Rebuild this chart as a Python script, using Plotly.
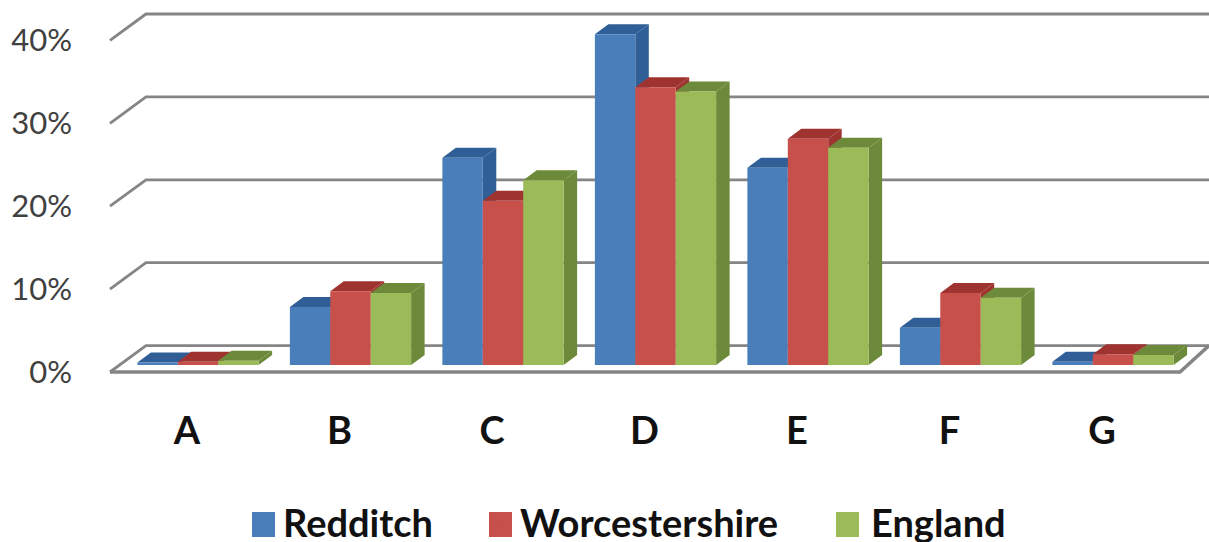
import plotly.graph_objects as go

categories = ["A", "B", "C", "D", "E", "F", "G"]
redditch = [0.3, 7.0, 25.0, 39.9, 23.8, 4.5, 0.4]
worcestershire = [0.4, 8.9, 19.8, 33.5, 27.3, 8.7, 1.3]
england = [0.5, 8.7, 22.3, 33.0, 26.2, 8.1, 1.2]
y_ticks = [0, 10, 20, 30, 40]
y_labels = ["0%", "10%", "20%", "30%", "40%"]

names = ["Redditch", "Worcestershire", "England"]
series = [redditch, worcestershire, england]
front = ["#4A7EBB", "#C8504B", "#9BBB59"]
dark = ["#2F5F96", "#9E3330", "#6C8A3A"]

W, H = 1209, 542
L, B = 76, 142
PH = H - B
PXV = 8.29      # pixels per percentage point
PXC = 152.5     # pixels per category
X0, Y0 = 198, 365


def xpx(px):
    return (px - X0) / PXC


def ypx(py):
    return (Y0 - py) / PXV


xr = [xpx(L), xpx(W)]
yr = [ypx(PH), ypx(0)]
bw = 0.265
dx, dy = 13.5 / PXC, 10 / PXV
wall_front, wall_back = -7 / PXV, 19.4 / PXV
x_lf, x_lb = xpx(110), xpx(146)
x_rf, x_rb = xpx(1180), xpx(1209)
GRID = "#858585"

fig = go.Figure()


def line(xs, ys, width):
    fig.add_trace(go.Scatter(x=xs, y=ys, mode="lines", showlegend=False, hoverinfo="skip",
                             line=dict(color=GRID, width=width)))


for t in y_ticks:
    line([x_lf, x_lb, x_rb], [t + wall_front, t + wall_back, t + wall_back], 2.8)
line([x_lf, x_rf, x_rb], [wall_front, wall_front, wall_back], 3.5)

for i in range(len(categories)):
    for j, vals in enumerate(series):
        v = vals[i]
        xl = i + (j - 1.5) * bw
        xr_b = xl + bw
        fig.add_trace(go.Scatter(
            x=[xl, xl + dx, xr_b + dx, xr_b, xl], y=[v, v + dy, v + dy, v, v],
            mode="lines", fill="toself", fillcolor=dark[j], line=dict(width=0),
            showlegend=False, hoverinfo="skip"))
        fig.add_trace(go.Scatter(
            x=[xr_b, xr_b + dx, xr_b + dx, xr_b, xr_b], y=[0, dy, v + dy, v, 0],
            mode="lines", fill="toself", fillcolor=dark[j], line=dict(width=0),
            showlegend=False, hoverinfo="skip"))

legend_keys = ["legend", "legend2", "legend3"]
for j, vals in enumerate(series):
    fig.add_trace(go.Bar(x=list(range(len(categories))), y=vals, name=names[j],
                         marker=dict(color=front[j], line=dict(width=0)),
                         xaxis="x2", yaxis="y2", legend=legend_keys[j]))

PW = W - L


def legend_at(px):
    return dict(x=(px - L) / PW, y=(PH - 522) / PH, xanchor="left", yanchor="middle",
                orientation="h", bgcolor="rgba(0,0,0,0)", borderwidth=0,
                font=dict(family="Lato", size=38, color="#111111", weight="bold"))


swatch_px = [252, 489, 836]
shapes = [dict(type="rect", xref="paper", yref="paper",
               x0=(s - L) / PW, x1=(s + 23 - L) / PW,
               y0=(PH - 537) / PH, y1=(PH - 512) / PH,
               fillcolor=front[k], line=dict(width=0), layer="below")
          for k, s in enumerate(swatch_px)]

fig.update_layout(
    width=W, height=H, autosize=False,
    margin=dict(l=L, r=0, t=0, b=B, autoexpand=False),
    paper_bgcolor="white", plot_bgcolor="rgba(0,0,0,0)",
    barmode="group", bargap=1 - 3 * bw, bargroupgap=0,
    shapes=shapes,
    legend=legend_at(243), legend2=legend_at(480), legend3=legend_at(831),
    xaxis=dict(range=xr, showgrid=False, zeroline=False, showline=False,
               tickmode="array", tickvals=[i - 0.072 for i in range(len(categories))],
               ticktext=categories, ticks="", ticklabelstandoff=5,
               tickfont=dict(family="Lato", size=38, color="#111111", weight="bold")),
    yaxis=dict(range=yr, showgrid=False, zeroline=False, showline=False,
               tickmode="array", tickvals=[t + wall_front for t in y_ticks],
               ticktext=y_labels, ticks="", ticklabelstandoff=3,
               tickfont=dict(family="Lato", size=31, color="#404040")),
    xaxis2=dict(range=xr, overlaying="x", visible=False),
    yaxis2=dict(range=yr, overlaying="y", visible=False),
)

fig.write_html("out.html", config=dict(displayModeBar=False),
               post_script="document.body.style.margin='0';document.body.style.overflow='hidden';")
